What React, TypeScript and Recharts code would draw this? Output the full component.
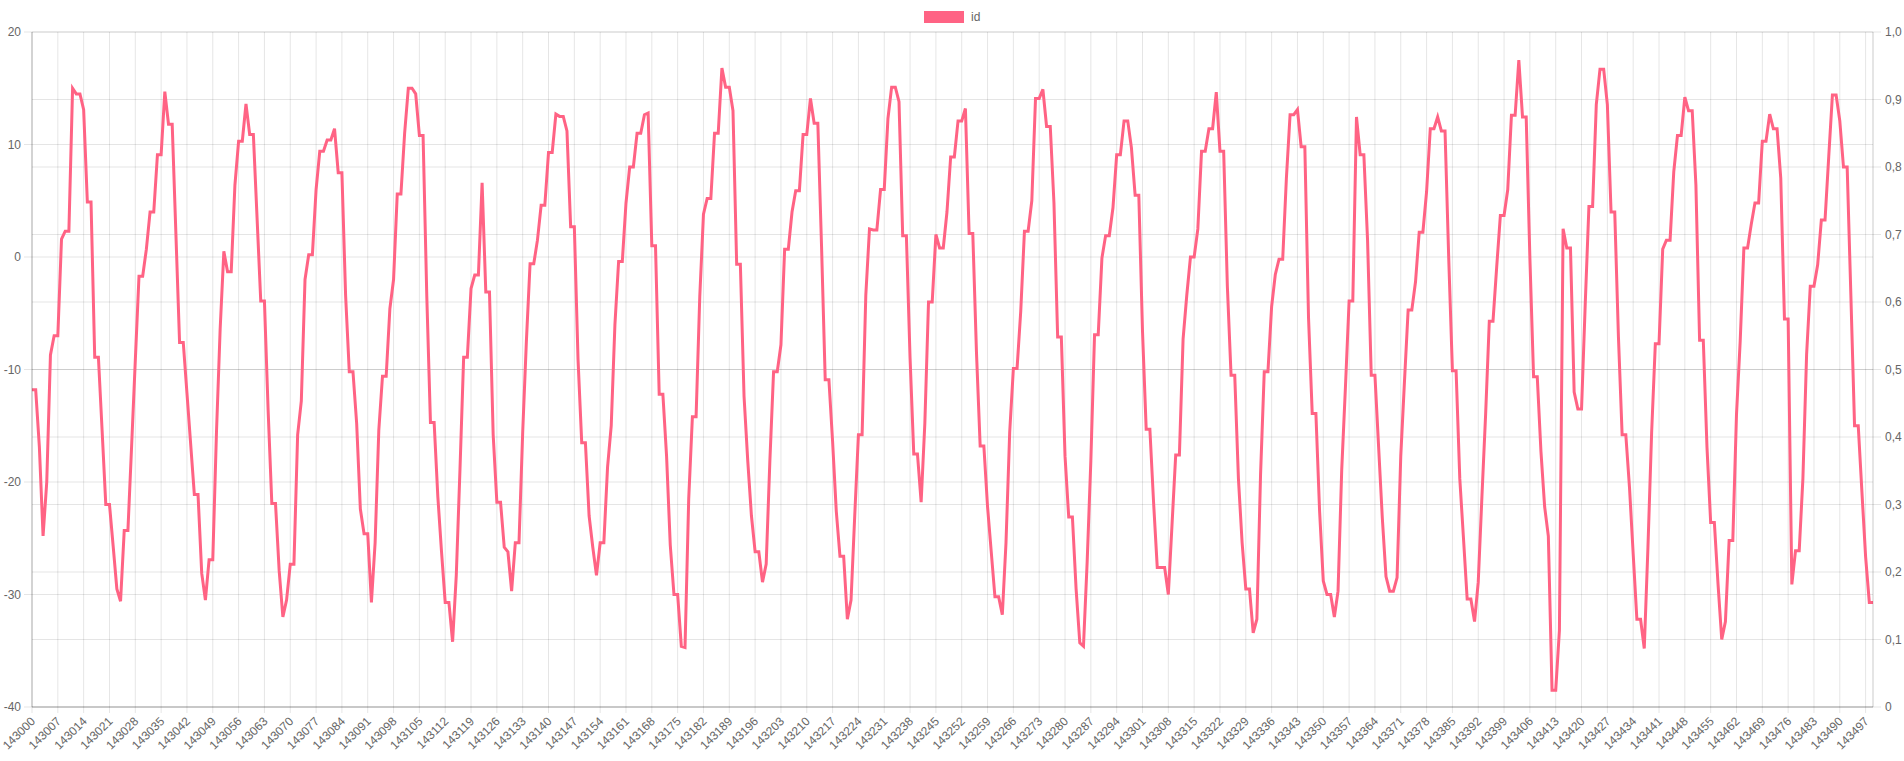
import React from "react";
import {
  LineChart,
  Line,
  XAxis,
  YAxis,
  CartesianGrid,
} from "recharts";

// ids run 143000..143499, one reading per id
const firstId = 143000;
const idValues: number[] = [
  -11.8, -11.8, -16.9, -24.8, -20.0, -8.7, -7.0, -7.0, 1.6, 2.3,
  2.3, 15.0, 14.5, 14.5, 13.1, 4.9, 4.9, -8.9, -8.9, -15.4,
  -22.0, -22.0, -25.7, -29.5, -30.6, -24.3, -24.3, -16.8, -9.2, -1.7,
  -1.7, 0.7, 4.0, 4.0, 9.1, 9.1, 14.7, 11.8, 11.8, 2.1,
  -7.6, -7.6, -12.1, -16.6, -21.1, -21.1, -28.1, -30.5, -26.9, -26.9,
  -15.6, -6.4, 0.5, -1.3, -1.3, 6.4, 10.3, 10.3, 13.6, 10.9,
  10.9, 3.5, -3.9, -3.9, -13.6, -21.9, -21.9, -27.9, -32.0, -30.5,
  -27.3, -27.3, -15.8, -12.8, -2.0, 0.2, 0.2, 6.0, 9.4, 9.4,
  10.4, 10.4, 11.4, 7.5, 7.5, -3.4, -10.2, -10.2, -14.8, -22.4,
  -24.6, -24.6, -30.7, -25.4, -15.4, -10.6, -10.6, -4.6, -2.0, 5.6,
  5.6, 11.0, 15.0, 15.0, 14.5, 10.8, 10.8, -3.4, -14.7, -14.7,
  -21.3, -26.2, -30.7, -30.7, -34.2, -28.3, -18.9, -8.9, -8.9, -2.8,
  -1.6, -1.6, 6.6, -3.1, -3.1, -15.8, -21.8, -21.8, -25.8, -26.2,
  -29.7, -25.4, -25.4, -15.6, -7.5, -0.6, -0.6, 1.5, 4.6, 4.6,
  9.3, 9.3, 12.7, 12.5, 12.5, 11.2, 2.7, 2.7, -9.1, -16.5,
  -16.5, -23.0, -25.8, -28.3, -25.4, -25.4, -18.7, -15.0, -6.0, -0.4,
  -0.4, 4.8, 8.0, 8.0, 11.0, 11.0, 12.65, 12.8, 1.0, 1.0,
  -12.2, -12.2, -17.7, -25.6, -30.0, -30.0, -34.6, -34.7, -21.5, -14.2,
  -14.2, -3.5, 3.8, 5.2, 5.2, 11.0, 11.0, 16.8, 15.1, 15.1,
  13.0, -0.65, -0.65, -12.4, -18.1, -23.0, -26.2, -26.2, -28.9, -27.3,
  -18.1, -10.2, -10.2, -7.8, 0.7, 0.7, 4.0, 5.9, 5.9, 10.9,
  10.9, 14.1, 11.9, 11.9, 1.0, -10.9, -10.9, -16.4, -22.6, -26.6,
  -26.6, -32.2, -30.5, -23.0, -15.8, -15.8, -3.4, 2.5, 2.4, 2.4,
  6.0, 6.0, 12.3, 15.1, 15.1, 13.8, 1.9, 1.9, -9.0, -17.5,
  -17.5, -21.8, -14.8, -4.0, -4.0, 2.0, 0.8, 0.8, 4.0, 8.9,
  8.9, 12.1, 12.1, 13.2, 2.1, 2.1, -8.5, -16.8, -16.8, -22.2,
  -26.2, -30.2, -30.2, -31.8, -25.4, -15.6, -9.9, -9.9, -4.8, 2.3,
  2.3, 5.0, 14.1, 14.1, 14.9, 11.6, 11.6, 4.8, -7.1, -7.1,
  -17.7, -23.1, -23.1, -29.5, -34.3, -34.6, -27.1, -18.1, -6.9, -6.9,
  -0.1, 1.9, 1.9, 4.4, 9.1, 9.1, 12.1, 12.1, 9.7, 5.5,
  5.5, -6.6, -15.3, -15.3, -21.8, -27.6, -27.6, -27.6, -30.0, -23.8,
  -17.6, -17.6, -7.3, -3.4, 0.0, 0.0, 2.5, 9.4, 9.4, 11.4,
  11.4, 14.65, 9.4, 9.4, -2.6, -10.5, -10.5, -19.7, -25.4, -29.5,
  -29.5, -33.4, -32.2, -19.3, -10.2, -10.2, -4.4, -1.55, -0.2, -0.2,
  7.0, 12.65, 12.65, 13.1, 9.8, 9.8, -5.4, -13.9, -13.9, -22.6,
  -28.8, -30.0, -30.0, -32.0, -29.7, -18.9, -11.6, -3.9, -3.9, 12.45,
  9.1, 9.1, 1.5, -10.5, -10.5, -16.9, -23.2, -28.4, -29.7, -29.7,
  -28.5, -17.7, -11.1, -4.7, -4.7, -2.2, 2.2, 2.2, 5.8, 11.4,
  11.4, 12.45, 11.2, 11.2, -0.1, -10.1, -10.1, -19.7, -25.0, -30.4,
  -30.4, -32.4, -28.9, -21.3, -14.0, -5.7, -5.7, -0.9, 3.7, 3.7,
  6.0, 12.6, 12.6, 17.5, 12.45, 12.45, -0.1, -10.65, -10.65, -17.3,
  -22.2, -24.8, -38.5, -38.5, -33.2, 2.5, 0.8, 0.8, -12.0, -13.5,
  -13.5, -4.2, 4.5, 4.5, 13.55, 16.7, 16.7, 13.55, 4.0, 4.0,
  -7.1, -15.8, -15.8, -20.5, -26.4, -32.2, -32.2, -34.8, -25.8, -15.6,
  -7.7, -7.7, 0.7, 1.5, 1.5, 7.6, 10.8, 10.8, 14.2, 13.0,
  13.0, 6.4, -7.4, -7.4, -16.9, -23.6, -23.6, -29.1, -34.0, -32.4,
  -25.2, -25.2, -14.0, -7.5, 0.8, 0.8, 2.9, 4.8, 4.8, 10.3,
  10.3, 12.7, 11.4, 11.4, 7.0, -5.5, -5.5, -29.1, -26.1, -26.1,
  -19.7, -8.7, -2.6, -2.6, -0.7, 3.3, 3.3, 8.9, 14.4, 14.4,
  12.1, 8.0, 8.0, -3.4, -15.0, -15.0, -20.9, -26.65, -30.7, -30.7,
];

const leftTicks = [-40, -30, -20, -10, 0, 10, 20];
const rightTicks = [0, 0.1, 0.2, 0.3, 0.4, 0.5, 0.6, 0.7, 0.8, 0.9, 1];

const rows = idValues.map((v, i) => ({ id: firstId + i, value: v }));

const PINK = "rgb(255, 99, 132)";
const GRID = "rgba(0,0,0,0.1)";
const FONT = "'Liberation Sans', Arial, Helvetica, sans-serif";

function XTick({ x, y, payload }: any) {
  return (
    <g transform={`translate(${x + 1},${y})`}>
      <text
        x={0}
        y={0}
        dy="0.35em"
        textAnchor="end"
        transform="rotate(-45)"
        fill="#666"
        fontSize={12}
        fontFamily={FONT}
      >
        {payload.value}
      </text>
    </g>
  );
}

const fmtRight = (v: number) => (v === 0 ? "0" : v.toFixed(1).replace(".", ","));

export default function App() {
  return (
    <div style={{ position: "absolute", left: 0, top: 0, width: 1904, height: 761, background: "#fff" }}>
      {/* legend */}
      <div
        style={{
          position: "absolute",
          left: 924,
          top: 10,
          display: "flex",
          alignItems: "center",
          fontFamily: FONT,
          fontSize: 12,
          color: "#666",
        }}
      >
        <span style={{ display: "inline-block", width: 40, height: 12, background: PINK, marginRight: 7 }} />
        <span>id</span>
      </div>
      <LineChart
        width={1904}
        height={761}
        data={rows}
        margin={{ top: 32, right: 0, bottom: 0, left: 0 }}
      >
        <CartesianGrid yAxisId="left" stroke={GRID} strokeWidth={1} />
        <CartesianGrid yAxisId="right" stroke={GRID} strokeWidth={1} vertical={false} />
        <XAxis
          dataKey="id"
          interval={6}
          height={54}
          tickSize={6}
          tickMargin={6}
          tickLine={{ stroke: GRID }}
          axisLine={{ stroke: "rgba(0,0,0,0.25)" }}
          tick={<XTick />}
        />
        <YAxis
          yAxisId="left"
          orientation="left"
          width={32}
          domain={[-40, 20]}
          ticks={leftTicks}
          interval={0}
          tickSize={8}
          tickMargin={3}
          tickLine={{ stroke: GRID }}
          axisLine={{ stroke: "rgba(0,0,0,0.25)" }}
          tick={{ fill: "#666", fontSize: 12, fontFamily: FONT }}
        />
        <YAxis
          yAxisId="right"
          orientation="right"
          type="number"
          width={31}
          domain={[0, 1]}
          allowDataOverflow
          ticks={rightTicks}
          interval={0}
          tickSize={8}
          tickMargin={4}
          tickLine={{ stroke: GRID }}
          axisLine={{ stroke: GRID }}
          tickFormatter={fmtRight}
          tick={{ fill: "#666", fontSize: 12, fontFamily: FONT }}
        />
        <Line
          yAxisId="left"
          type="linear"
          dataKey="value"
          name="id"
          stroke={PINK}
          strokeWidth={3}
          dot={false}
          activeDot={false}
          isAnimationActive={false}
        />
        {/* keeps the empty right-hand axis bound to the chart */}
        <Line
          yAxisId="right"
          dataKey="none"
          stroke="none"
          dot={false}
          activeDot={false}
          legendType="none"
          isAnimationActive={false}
        />
      </LineChart>
    </div>
  );
}
